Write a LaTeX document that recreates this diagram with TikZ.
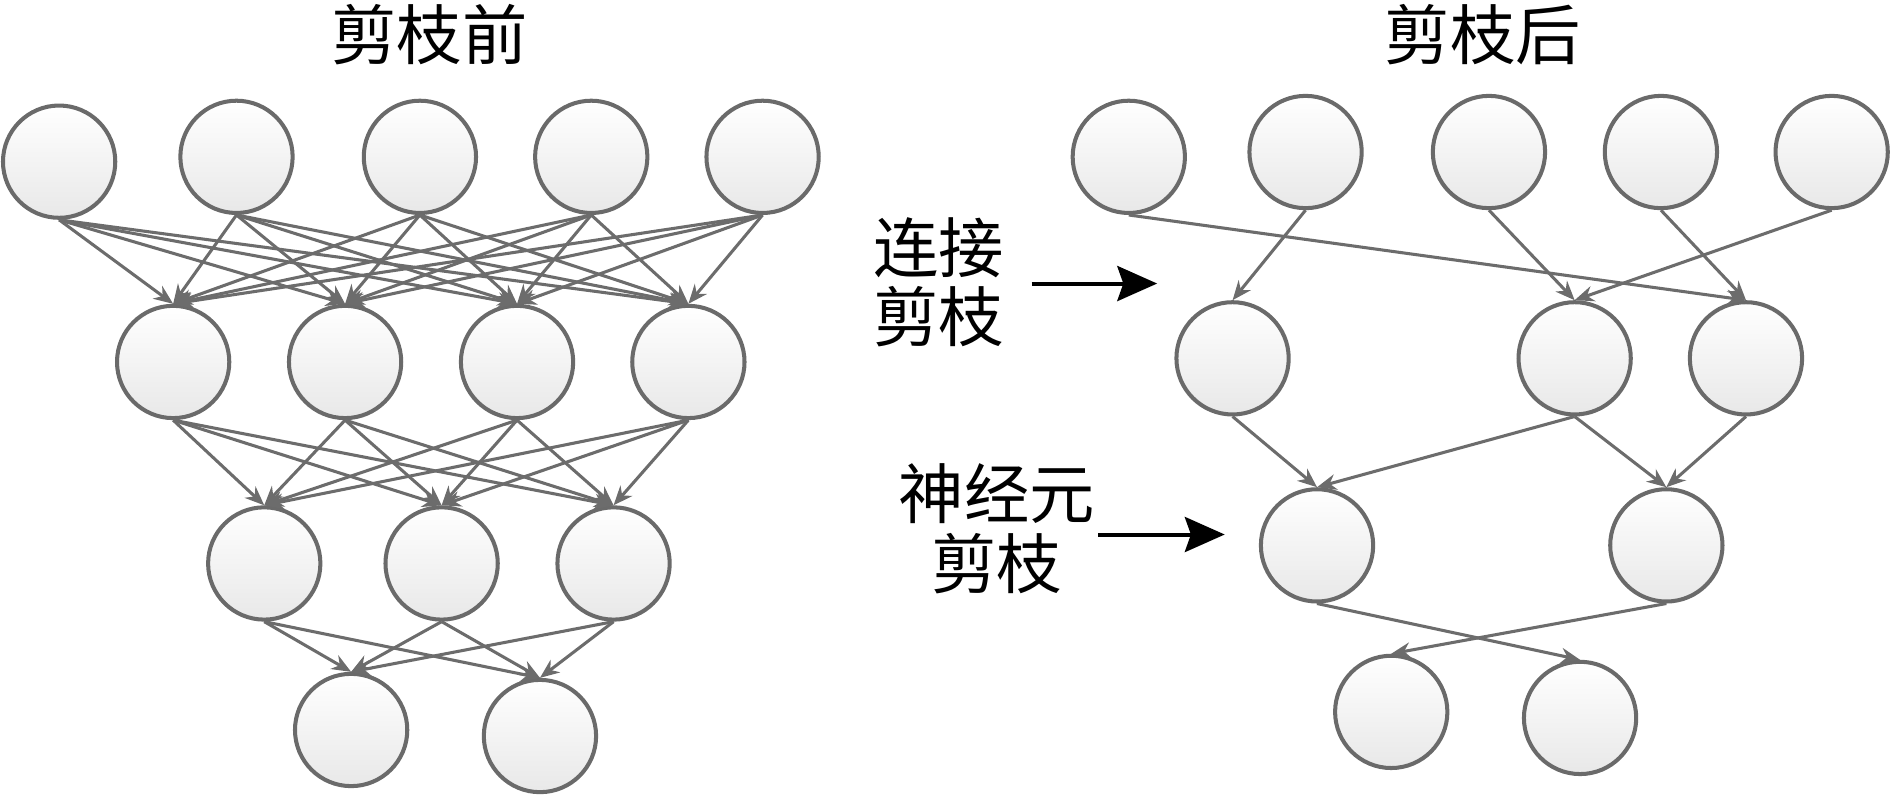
\documentclass[tikz,border=0pt]{standalone}
\usepackage{fontspec}
\newfontfamily\cjk{Noto Sans CJK SC}
\usetikzlibrary{arrows.meta}
\definecolor{nodeline}{HTML}{6A6A6A}
\definecolor{edgecol}{HTML}{6C6C6C}
\tikzset{
  neuron/.style={circle,draw=nodeline,line width=0.95pt,minimum size=0.93cm,inner sep=0pt,top color=white,bottom color=black!9},
  edge/.style={draw=edgecol,line width=0.72pt,-{Stealth[length=1.6mm,width=1.3mm]}},
  bigarrow/.style={draw=black,line width=0.95pt,-{Stealth[length=3.3mm,width=2.9mm,inset=0.5mm]}},
  lbl/.style={font=\cjk\fontsize{15.4}{16.4}\selectfont,align=center,inner sep=0pt}
}
\begin{document}
\begin{tikzpicture}[x=0.01cm,y=-0.01cm]
\useasboundingbox (0,0) rectangle (1568,659);
% titles
\node[lbl] (t1) at (356,29) {剪枝前};
\node[lbl] (t2) at (1229,29) {剪枝后};
% left network
\node[neuron] (a1) at (49,134) {};
\node[neuron] (a2) at (196,130) {};
\node[neuron] (a3) at (348,130) {};
\node[neuron] (a4) at (490,130) {};
\node[neuron] (a5) at (632,130) {};
\node[neuron] (b1) at (143.5,300) {};
\node[neuron] (b2) at (286,300) {};
\node[neuron] (b3) at (428.5,300) {};
\node[neuron] (b4) at (570.5,300) {};
\node[neuron] (c1) at (219,467) {};
\node[neuron] (c2) at (366,467) {};
\node[neuron] (c3) at (508.5,467) {};
\node[neuron] (d1) at (291,605) {};
\node[neuron] (d2) at (447.5,610) {};
\foreach \s in {a1,a2,a3,a4,a5}{\foreach \t in {b1,b2,b3,b4}{\draw[edge] (\s.south) -- (\t.north);}}
\foreach \s in {b1,b2,b3,b4}{\foreach \t in {c1,c2,c3}{\draw[edge] (\s.south) -- (\t.north);}}
\foreach \s in {c1,c2,c3}{\foreach \t in {d1,d2}{\draw[edge] (\s.south) -- (\t.north);}}
% right network
\node[neuron] (p1) at (935.5,130) {};
\node[neuron] (p2) at (1082,126) {};
\node[neuron] (p3) at (1234,126) {};
\node[neuron] (p4) at (1376.5,126) {};
\node[neuron] (p5) at (1518,126) {};
\node[neuron] (q1) at (1021.5,297) {};
\node[neuron] (q2) at (1305,297) {};
\node[neuron] (q3) at (1447,297) {};
\node[neuron] (r1) at (1091.5,452) {};
\node[neuron] (r2) at (1381,452) {};
\node[neuron] (s1) at (1153,590) {};
\node[neuron] (s2) at (1309.5,595) {};
\draw[edge] (p1.south) -- (q3.north);
\draw[edge] (p2.south) -- (q1.north);
\draw[edge] (p3.south) -- (q2.north);
\draw[edge] (p4.south) -- (q3.north);
\draw[edge] (p5.south) -- (q2.north);
\draw[edge] (q1.south) -- (r1.north);
\draw[edge] (q2.south) -- (r1.north);
\draw[edge] (q2.south) -- (r2.north);
\draw[edge] (q3.south) -- (r2.north);
\draw[edge] (r1.south) -- (s2.north);
\draw[edge] (r2.south) -- (s1.north);
% labels with arrows
\node[lbl] (l1) at (778,234) {连接\\剪枝};
\node[lbl] (l2) at (826,438) {神经元\\剪枝};
\coordinate (a1s) at (855,235);
\coordinate (a1e) at (959,235);
\coordinate (a2s) at (910,443);
\coordinate (a2e) at (1015,443);
\draw[bigarrow] (a1s) -- (a1e);
\draw[bigarrow] (a2s) -- (a2e);
\end{tikzpicture}
\end{document}
